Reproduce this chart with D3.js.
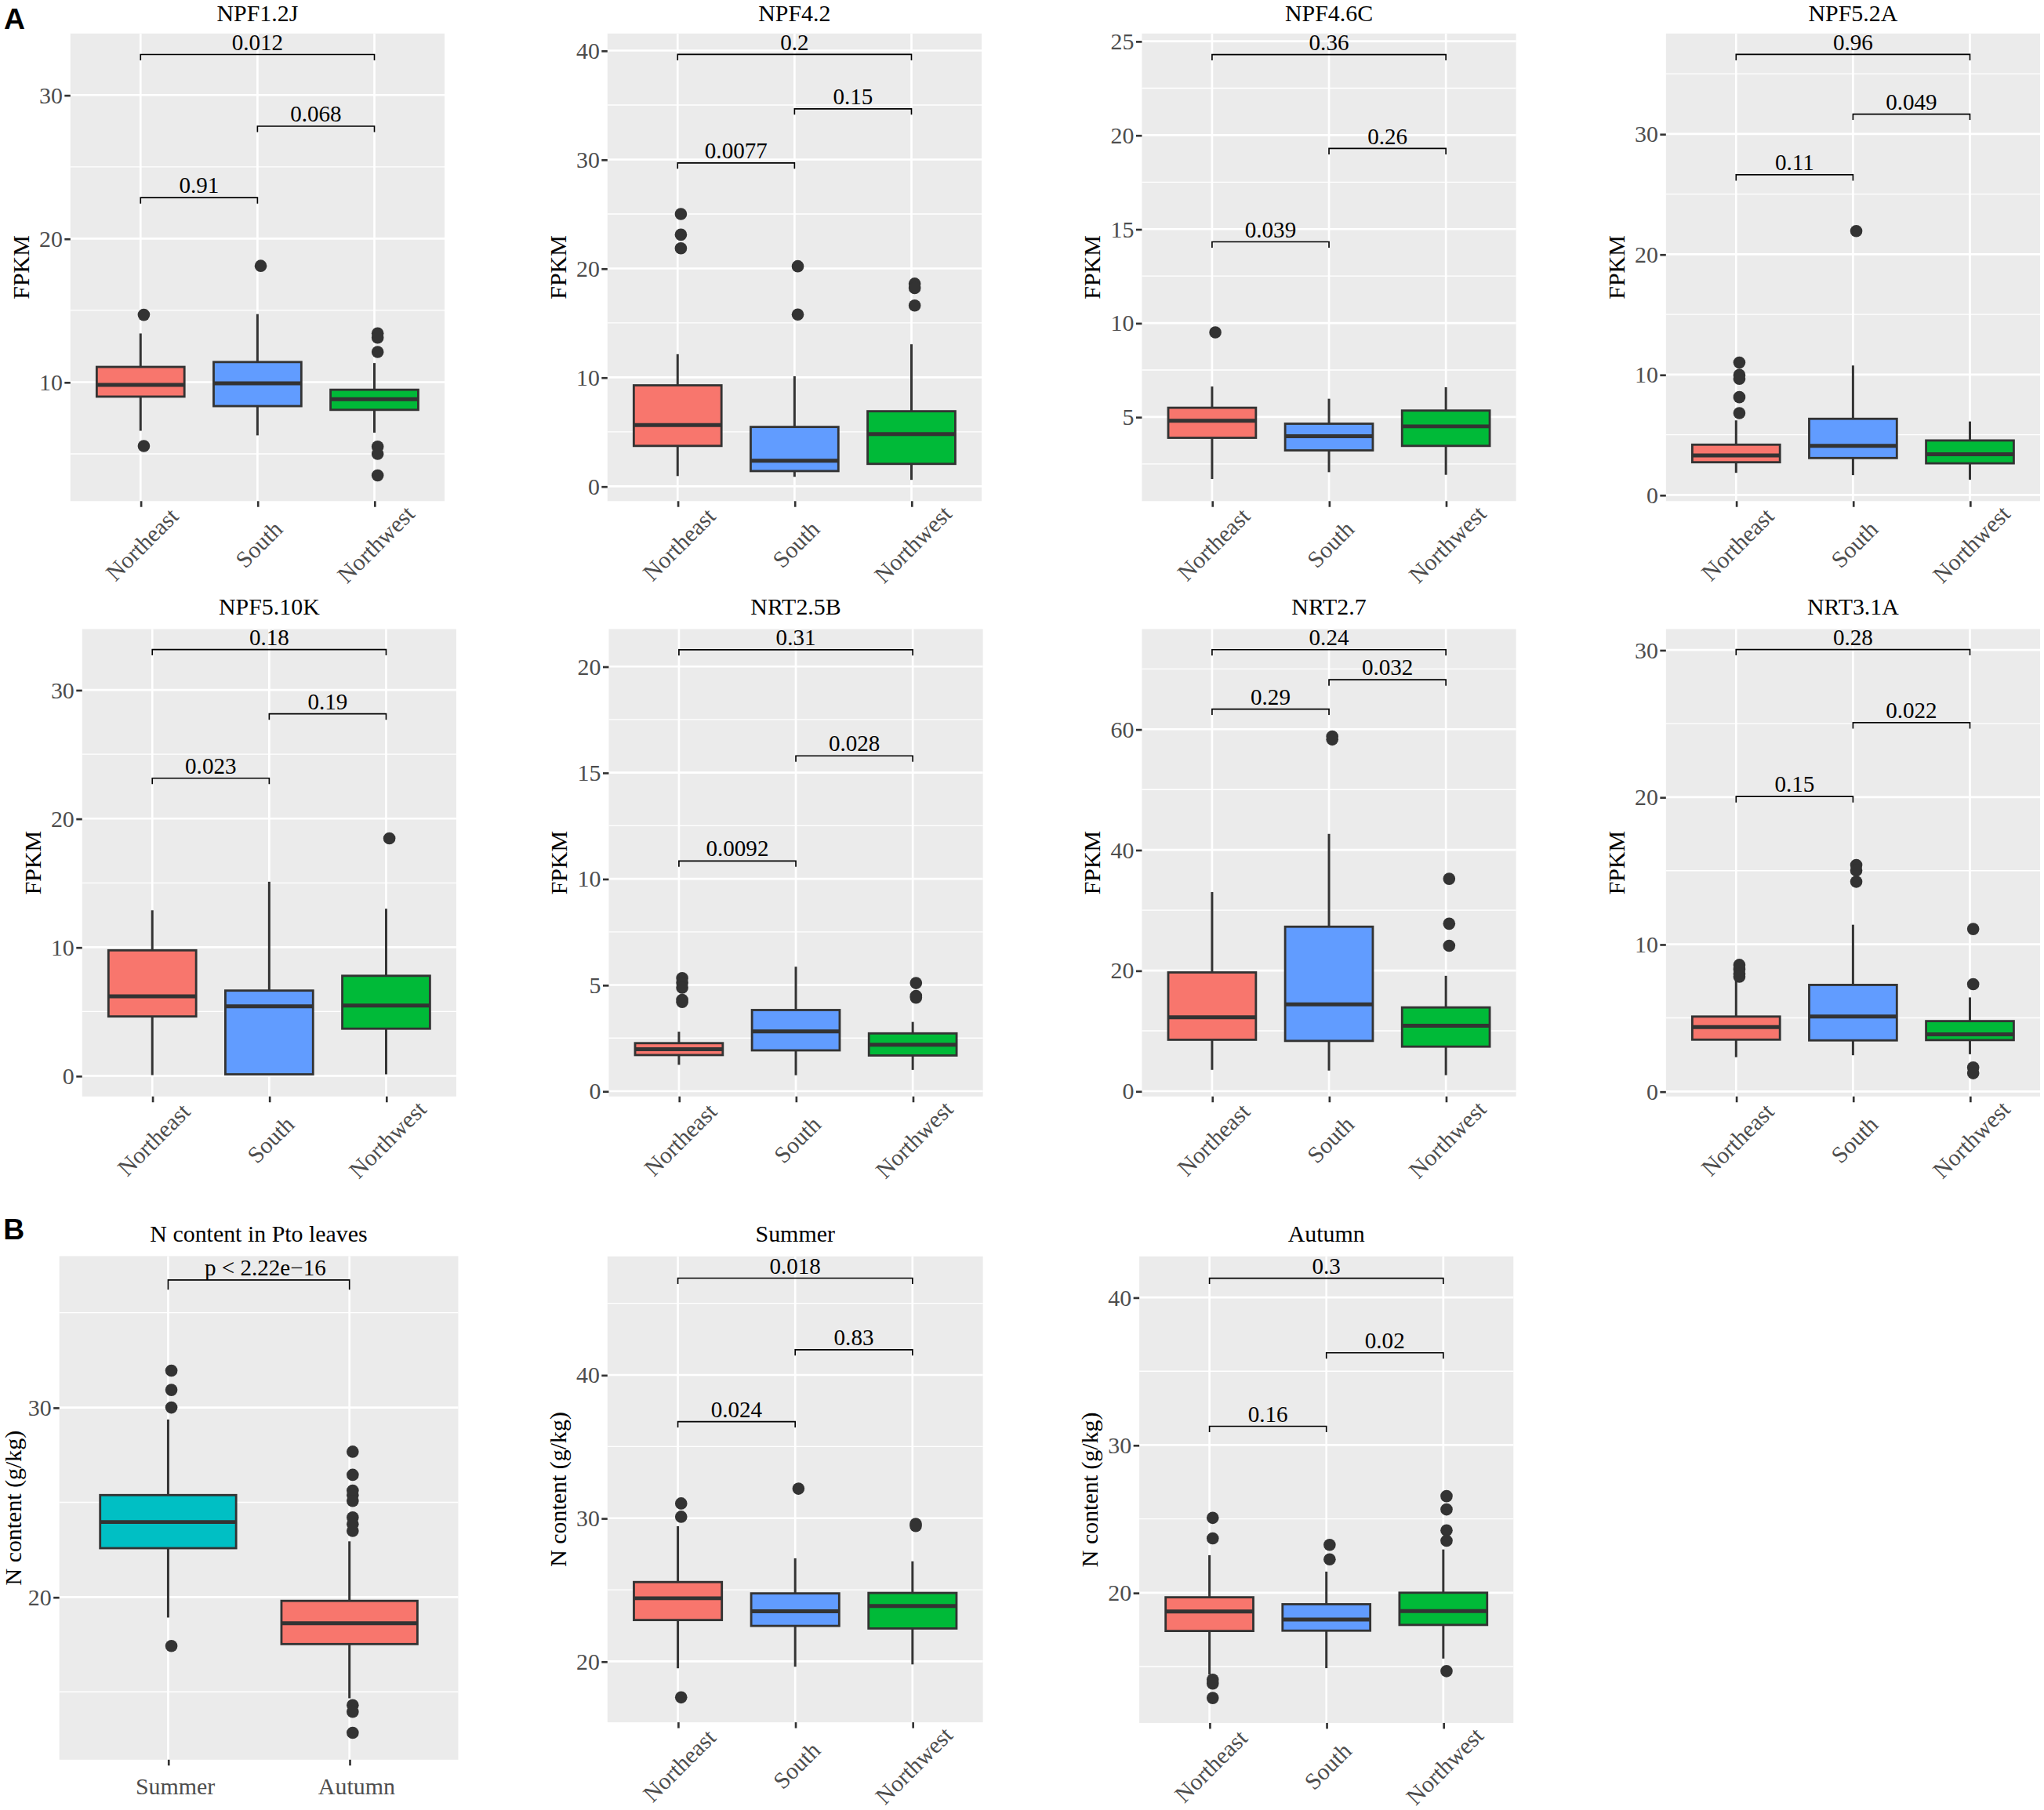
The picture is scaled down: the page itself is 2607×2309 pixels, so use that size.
<!DOCTYPE html>
<html>
<head>
<meta charset="utf-8">
<script src="https://cdn.jsdelivr.net/npm/d3@7"></script>
<style>
  html, body { margin: 0; background: #fff; }
  svg { display: block; }
</style>
</head>
<body>
<div id="figure"></div>
<script>
/* global d3 */

// ---- data ----
const regions = ['Northeast', 'South', 'Northwest'];
const seasons = ['Summer', 'Autumn'];
const regionColors = ['#F8766D', '#619CFF', '#00BA38'];
const seasonColors = ['#00BFC4', '#F8766D'];

const panelTitles = ['NPF1.2J', 'NPF4.2', 'NPF4.6C', 'NPF5.2A', 'NPF5.10K', 'NRT2.5B',
  'NRT2.7', 'NRT3.1A', 'N content in Pto leaves', 'Summer', 'Autumn'];
const yTitles = ['FPKM', 'FPKM', 'FPKM', 'FPKM', 'FPKM', 'FPKM', 'FPKM', 'FPKM',
  'N content (g/kg)', 'N content (g/kg)', 'N content (g/kg)'];

const yDomains = [
  [1.71, 34.29], [-1.36, 41.57], [0.52, 25.41], [-0.51, 38.35],
  [-1.6, 34.73], [-0.25, 21.76], [-0.88, 76.6], [-0.34, 31.42],
  [11.42, 37.99], [15.75, 48.28], [11.18, 42.78]
];
const yTicks = [
  [10, 20, 30], [0, 10, 20, 30, 40], [5, 10, 15, 20, 25], [0, 10, 20, 30],
  [0, 10, 20, 30], [0, 5, 10, 15, 20], [0, 20, 40, 60], [0, 10, 20, 30],
  [20, 30], [20, 30, 40], [20, 30, 40]
];

// [lower whisker, Q1, median, Q3, upper whisker] for each group
const boxNPF1_2J = [[6.61, 8.99, 9.81, 11.06, 13.39], [6.29, 8.33, 9.92, 11.40, 14.74], [6.48, 8.07, 8.81, 9.47, 11.33]];
const boxNPF4_2 = [[0.94, 3.71, 5.63, 9.27, 12.13], [0.87, 1.40, 2.34, 5.45, 10.1], [0.59, 2.06, 4.79, 6.89, 13.04]];
const boxNPF4_6C = [[1.70, 3.89, 4.80, 5.49, 6.62], [2.06, 3.22, 3.97, 4.64, 5.97], [1.92, 3.46, 4.50, 5.34, 6.58]];
const boxNPF5_2A = [[1.84, 2.72, 3.29, 4.18, 6.2], [1.65, 3.07, 4.08, 6.33, 10.76], [1.27, 2.63, 3.39, 4.53, 6.11]];
const boxNPF5_10K = [[0.06, 4.62, 6.18, 9.76, 12.87], [0.12, 0.12, 5.41, 6.63, 15.09], [0.12, 3.67, 5.47, 7.78, 12.99]];
const boxNRT2_5B = [[1.24, 1.70, 1.97, 2.26, 2.80], [0.75, 1.92, 2.81, 3.82, 5.86], [1.0, 1.68, 2.19, 2.72, 3.26]];
const boxNRT2_7 = [[3.53, 8.52, 12.24, 19.68, 33.0], [3.41, 8.33, 14.38, 27.26, 42.65], [2.65, 7.38, 10.85, 13.88, 19.12]];
const boxNRT3_1A = [[2.33, 3.52, 4.37, 5.09, 7.58], [2.46, 3.47, 5.09, 7.24, 11.33], [2.53, 3.49, 3.88, 4.78, 6.39]];
const boxNSeason = [[18.92, 22.58, 23.96, 25.38, 29.37], [14.66, 17.52, 18.62, 19.8, 22.94]];
const boxNSummer = [[19.52, 22.89, 24.41, 25.54, 29.44], [19.63, 22.48, 23.5, 24.75, 27.2], [19.79, 22.3, 23.87, 24.78, 26.99]];
const boxNAutumn = [[14.45, 17.41, 18.73, 19.69, 22.54], [14.89, 17.43, 18.18, 19.22, 21.43], [15.54, 17.82, 18.75, 20.0, 22.93]];

// outlying points for each group
const outNPF1_2J = [[14.69, 5.55], [18.1], [13.4, 13.1, 12.1, 5.5, 5.0, 3.5]];
const outNPF4_2 = [[25.0, 23.1, 21.85], [20.2, 15.77], [18.6, 18.2, 16.6]];
const outNPF4_6C = [[9.5], [], []];
const outNPF5_2A = [[11.0, 9.97, 9.65, 8.13, 6.8], [21.93], []];
const outNPF5_10K = [[], [], [18.46]];
const outNRT2_5B = [[5.32, 5.1, 4.87, 4.3, 4.2], [], [5.09, 4.48, 4.4]];
const outNRT2_7 = [[], [58.8, 58.3], [35.2, 27.76, 24.1]];
const outNRT3_1A = [[8.6, 8.3, 8.0, 7.8], [15.39, 15.02, 14.25], [11.04, 7.29, 1.63, 1.24]];
const outNSeason = [[31.95, 30.93, 30.0, 17.42], [27.67, 26.45, 25.62, 25.38, 25.07, 24.2, 23.85, 23.49, 14.3, 13.95, 12.84]];
const outNSummer = [[31.03, 30.1, 17.49], [32.06], [29.6, 29.45]];
const outNAutumn = [[25.07, 23.68, 14.11, 13.85, 12.87], [23.24, 22.26], [26.54, 25.64, 24.22, 23.52, 14.69]];

// [label, bracket height]; pairs are (1,2), (2,3), (1,3)
const pNPF1_2J = [['0.91', 22.85], ['0.068', 27.83], ['0.012', 32.83]];
const pNPF4_2 = [['0.0077', 29.69], ['0.15', 34.65], ['0.2', 39.65]];
const pNPF4_6C = [['0.039', 14.32], ['0.26', 19.29], ['0.36', 24.29]];
const pNPF5_2A = [['0.11', 26.61], ['0.049', 31.65], ['0.96', 36.61]];
const pNPF5_10K = [['0.023', 23.14], ['0.19', 28.14], ['0.18', 33.14]];
const pNRT2_5B = [['0.0092', 10.84], ['0.028', 15.79], ['0.31', 20.79]];
const pNRT2_7 = [['0.29', 63.34], ['0.032', 68.2], ['0.24', 73.19]];
const pNRT3_1A = [['0.15', 20.04], ['0.022', 25.06], ['0.28', 30.03]];
const pNSeason = [['p < 2.22e\u221216', 36.73]];
const pNSummer = [['0.024', 36.74], ['0.83', 41.76], ['0.018', 46.76]];
const pNAutumn = [['0.16', 31.27], ['0.02', 36.25], ['0.3', 41.3]];

const bracketPairs = [[0, 1], [1, 2], [0, 2]];

const boxes = [boxNPF1_2J, boxNPF4_2, boxNPF4_6C, boxNPF5_2A, boxNPF5_10K, boxNRT2_5B,
  boxNRT2_7, boxNRT3_1A, boxNSeason, boxNSummer, boxNAutumn];
const outliers = [outNPF1_2J, outNPF4_2, outNPF4_6C, outNPF5_2A, outNPF5_10K, outNRT2_5B,
  outNRT2_7, outNRT3_1A, outNSeason, outNSummer, outNAutumn];
const pvalues = [pNPF1_2J, pNPF4_2, pNPF4_6C, pNPF5_2A, pNPF5_10K, pNRT2_5B,
  pNRT2_7, pNRT3_1A, pNSeason, pNSummer, pNAutumn];

// ---- layout (in units of a 1568 wide canvas) ----
const vbWidth = 1568;
const vbHeight = 1388.8;
const rects = [
  [54, 25.7, 287, 358.8], [466, 25.7, 287, 358.8], [876, 25.7, 287, 358.8], [1278, 25.7, 287, 358.8],
  [63, 482.7, 287, 358.6], [467, 482.7, 287, 358.6], [876, 482.7, 287, 358.6], [1278, 482.7, 287, 358.6],
  [45.5, 963.8, 306, 386.4], [466, 964, 288, 357.5], [874, 964, 287, 358]
];

const serif = '"Liberation Serif", "Times New Roman", Times, serif';
const dark = '#333333';
const tickGrey = '#4D4D4D';

const svg = d3.select('#figure')
  .append('svg')
  .attr('width', 2607)
  .attr('height', 2309)
  .attr('viewBox', [0, 0, vbWidth, vbHeight]);

function drawPanel(i) {
  const [px, py, pw, ph] = rects[i];
  const seasonal = i === 8;
  const groups = seasonal ? seasons : regions;
  const colors = seasonal ? seasonColors : regionColors;
  const ticks = yTicks[i];
  const domain = yDomains[i];

  const x = d3.scalePoint()
    .domain(groups)
    .range([px, px + pw])
    .padding(0.6);

  const y = d3.scaleLinear()
    .domain(domain)
    .range([py + ph, py]);

  const boxWidth = x.step() * 0.75;
  const g = svg.append('g');

  g.append('rect')
    .attr('x', px)
    .attr('y', py)
    .attr('width', pw)
    .attr('height', ph)
    .attr('fill', '#EBEBEB');

  const step = ticks[1] - ticks[0];
  const minor = [ticks[0] - step / 2, ...ticks.map(t => t + step / 2)]
    .filter(v => v > domain[0] && v < domain[1]);

  g.append('g')
    .selectAll('line')
    .data(minor)
    .join('line')
    .attr('x1', px)
    .attr('x2', px + pw)
    .attr('y1', d => y(d))
    .attr('y2', d => y(d))
    .attr('stroke', '#fff')
    .attr('stroke-width', 0.8);

  g.append('g')
    .selectAll('line')
    .data(ticks)
    .join('line')
    .attr('x1', px)
    .attr('x2', px + pw)
    .attr('y1', d => y(d))
    .attr('y2', d => y(d))
    .attr('stroke', '#fff')
    .attr('stroke-width', 1.6);

  g.append('g')
    .selectAll('line')
    .data(groups)
    .join('line')
    .attr('x1', d => x(d))
    .attr('x2', d => x(d))
    .attr('y1', py)
    .attr('y2', py + ph)
    .attr('stroke', '#fff')
    .attr('stroke-width', 1.6);

  // y axis
  g.append('g')
    .attr('transform', `translate(${px},0)`)
    .call(d3.axisLeft(y).tickValues(ticks).tickSize(4.5).tickPadding(1.5))
    .call(a => a.select('.domain').remove())
    .call(a => a.selectAll('.tick line').attr('stroke', dark).attr('stroke-width', 1.6))
    .call(a => a.selectAll('.tick text')
      .attr('fill', tickGrey)
      .style('font', `18px ${serif}`));

  // x axis
  const xAxis = g.append('g')
    .attr('transform', `translate(0,${py + ph})`)
    .call(d3.axisBottom(x).tickSize(4.5))
    .call(a => a.select('.domain').remove())
    .call(a => a.selectAll('.tick line').attr('stroke', dark).attr('stroke-width', 1.6));

  if (seasonal) {
    xAxis.selectAll('.tick text')
      .attr('x', 5)
      .attr('y', 26.8)
      .attr('dy', 0)
      .attr('fill', tickGrey)
      .style('font', `18px ${serif}`);
  } else {
    xAxis.selectAll('.tick text')
      .attr('y', 0)
      .attr('dy', '0.35em')
      .attr('transform', 'translate(0.5,33) rotate(-45)')
      .attr('fill', tickGrey)
      .style('font', `18px ${serif}`);
  }

  // boxes
  const box = g.append('g')
    .selectAll('g')
    .data(boxes[i].map((s, k) => ({ group: groups[k], stats: s, color: colors[k], out: outliers[i][k] })))
    .join('g');

  box.append('line')
    .attr('x1', d => x(d.group))
    .attr('x2', d => x(d.group))
    .attr('y1', d => y(d.stats[0]))
    .attr('y2', d => y(d.stats[1]))
    .attr('stroke', dark)
    .attr('stroke-width', 1.8);

  box.append('line')
    .attr('x1', d => x(d.group))
    .attr('x2', d => x(d.group))
    .attr('y1', d => y(d.stats[3]))
    .attr('y2', d => y(d.stats[4]))
    .attr('stroke', dark)
    .attr('stroke-width', 1.8);

  box.append('rect')
    .attr('x', d => x(d.group) - boxWidth / 2)
    .attr('width', boxWidth)
    .attr('y', d => y(d.stats[3]))
    .attr('height', d => y(d.stats[1]) - y(d.stats[3]))
    .attr('fill', d => d.color)
    .attr('stroke', dark)
    .attr('stroke-width', 1.7);

  box.append('line')
    .attr('x1', d => x(d.group) - boxWidth / 2)
    .attr('x2', d => x(d.group) + boxWidth / 2)
    .attr('y1', d => y(d.stats[2]))
    .attr('y2', d => y(d.stats[2]))
    .attr('stroke', dark)
    .attr('stroke-width', 3);

  box.append('g')
    .attr('fill', dark)
    .selectAll('circle')
    .data(d => d.out.map(v => ({ group: d.group, value: v })))
    .join('circle')
    .attr('cx', d => x(d.group) + 2.5)
    .attr('cy', d => y(d.value))
    .attr('r', 4.7);

  // comparison brackets
  const tip = seasonal ? 7.5 : 4.5;
  const brackets = g.append('g')
    .selectAll('g')
    .data(pvalues[i].map((p, k) => ({ label: p[0], level: p[1], pair: bracketPairs[k] })))
    .join('g');

  brackets.append('path')
    .attr('fill', 'none')
    .attr('stroke', '#000')
    .attr('stroke-width', 1)
    .attr('d', d => {
      const x0 = x(groups[d.pair[0]]);
      const x1 = x(groups[d.pair[1]]);
      const yy = y(d.level);
      return `M${x0},${yy + tip}V${yy}H${x1}V${yy + tip}`;
    });

  brackets.append('text')
    .attr('x', d => (x(groups[d.pair[0]]) + x(groups[d.pair[1]])) / 2 + (seasonal ? 5 : 0))
    .attr('y', d => y(d.level) - 3.5)
    .attr('text-anchor', 'middle')
    .attr('fill', '#000')
    .style('font', `17.5px ${serif}`)
    .text(d => d.label);

  // titles
  g.append('text')
    .attr('x', px + pw / 2)
    .attr('y', Math.max(py - 11, 16.5))
    .attr('text-anchor', 'middle')
    .attr('fill', '#000')
    .style('font', `18px ${serif}`)
    .text(panelTitles[i]);

  g.append('text')
    .attr('transform', `translate(${Math.max(px - 32, 16.5)},${py + ph / 2}) rotate(-90)`)
    .attr('text-anchor', 'middle')
    .attr('fill', '#000')
    .style('font', `18px ${serif}`)
    .text(yTitles[i]);
}

d3.range(panelTitles.length).forEach(drawPanel);

svg.append('text')
  .attr('x', 3)
  .attr('y', 22)
  .style('font', 'bold 22.5px "Liberation Sans", Arial, sans-serif')
  .text('A');

svg.append('text')
  .attr('x', 2.5)
  .attr('y', 951)
  .style('font', 'bold 22.5px "Liberation Sans", Arial, sans-serif')
  .text('B');
</script>
</body>
</html>
